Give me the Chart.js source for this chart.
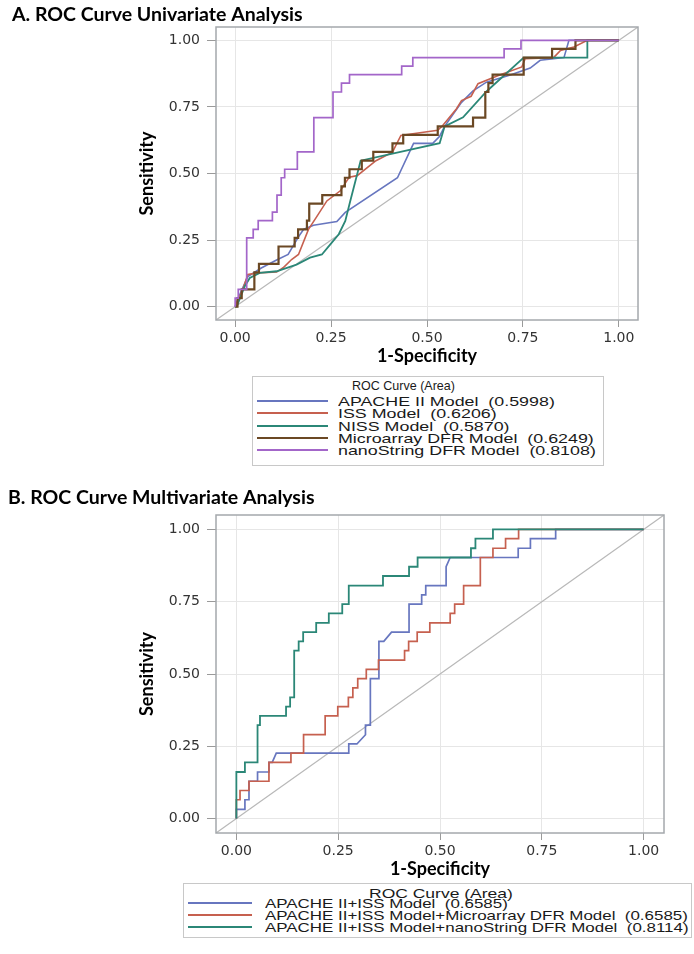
<!DOCTYPE html>
<html>
<head>
<meta charset="utf-8">
<script src="https://cdn.jsdelivr.net/npm/chart.js@4.4.1/dist/chart.umd.min.js"></script>
<style>
body { margin: 0; background: #fff; width: 694px; height: 954px; position: relative; overflow: hidden; font-family: "Liberation Sans", Arial, sans-serif; }
canvas { position: absolute; left: 0; }
#chartA { top: 0; }
#chartB { top: 480px; }
.legend { position: absolute; border: 1px solid #c8c8c8; background: #fff; box-sizing: border-box; }
.legend .txt { position: absolute; white-space: pre; font-size: 13px; line-height: 13px; color: #1a1a1a; transform-origin: 0 50%; }
.legend .swatch { position: absolute; height: 2px; }
</style>
</head>
<body>
<canvas id="chartA" width="694" height="372"></canvas>
<canvas id="chartB" width="694" height="400"></canvas>
<div id="legendA" class="legend"></div>
<div id="legendB" class="legend"></div>
<script>
// ---- panel A: univariate ----
var namesA = ['APACHE II Model', 'ISS Model', 'NISS Model', 'Microarray DFR Model', 'nanoString DFR Model'];
var areasA = ['0.5998', '0.6206', '0.5870', '0.6249', '0.8108'];

var apacheFpr = [0, 0.008, 0.018, 0.033, 0.068, 0.108, 0.138, 0.165, 0.178, 0.204, 0.265, 0.287, 0.423, 0.465, 0.515, 0.533, 0.546, 0.590, 0.620, 0.655, 0.717, 0.769, 0.795, 0.857, 0.870, 1];
var apacheTpr = [0, 0.032, 0.065, 0.113, 0.145, 0.175, 0.196, 0.262, 0.290, 0.306, 0.320, 0.354, 0.484, 0.613, 0.613, 0.640, 0.677, 0.767, 0.810, 0.843, 0.870, 0.896, 0.925, 0.935, 1, 1];

var issFpr = [0, 0.010, 0.020, 0.033, 0.060, 0.108, 0.125, 0.147, 0.165, 0.191, 0.208, 0.239, 0.274, 0.297, 0.318, 0.367, 0.410, 0.432, 0.463, 0.528, 0.541, 0.577, 0.590, 0.615, 0.633, 0.686, 0.747, 0.756, 0.830, 0.848, 0.883, 0.918, 1];
var issTpr = [0, 0.032, 0.065, 0.121, 0.127, 0.130, 0.146, 0.177, 0.196, 0.290, 0.328, 0.397, 0.435, 0.486, 0.492, 0.548, 0.580, 0.643, 0.649, 0.662, 0.680, 0.743, 0.774, 0.790, 0.837, 0.868, 0.900, 0.931, 0.935, 0.962, 0.975, 1, 1];

var nissFpr = [0, 0.004, 0.025, 0.038, 0.064, 0.108, 0.160, 0.195, 0.226, 0.248, 0.270, 0.287, 0.300, 0.327, 0.533, 0.546, 0.594, 0.655, 0.752, 0.918, 0.918, 1];
var nissTpr = [0, 0, 0.077, 0.108, 0.127, 0.133, 0.158, 0.184, 0.196, 0.234, 0.272, 0.322, 0.397, 0.548, 0.614, 0.677, 0.711, 0.808, 0.935, 0.935, 1, 1];

var microFpr = [0, 0.006, 0.006, 0.017, 0.017, 0.050, 0.050, 0.062, 0.062, 0.113, 0.113, 0.155, 0.155, 0.164, 0.164, 0.187, 0.187, 0.193, 0.193, 0.227, 0.227, 0.277, 0.277, 0.286, 0.286, 0.298, 0.298, 0.330, 0.330, 0.360, 0.360, 0.410, 0.410, 0.438, 0.438, 0.528, 0.528, 0.620, 0.620, 0.652, 0.652, 0.660, 0.660, 0.671, 0.671, 0.752, 0.752, 0.826, 0.826, 0.887, 0.887, 1];
var microTpr = [0, 0, 0.032, 0.032, 0.065, 0.065, 0.129, 0.129, 0.161, 0.161, 0.226, 0.226, 0.258, 0.258, 0.290, 0.290, 0.323, 0.323, 0.387, 0.387, 0.419, 0.419, 0.452, 0.452, 0.484, 0.484, 0.516, 0.516, 0.548, 0.548, 0.581, 0.581, 0.613, 0.613, 0.645, 0.645, 0.677, 0.677, 0.710, 0.710, 0.806, 0.806, 0.839, 0.839, 0.871, 0.871, 0.935, 0.935, 0.968, 0.968, 1, 1];

var nanoFpr = [0, 0, 0.008, 0.008, 0.030, 0.030, 0.047, 0.047, 0.060, 0.060, 0.097, 0.097, 0.109, 0.109, 0.120, 0.120, 0.129, 0.129, 0.162, 0.162, 0.205, 0.205, 0.255, 0.255, 0.277, 0.277, 0.298, 0.298, 0.434, 0.434, 0.463, 0.463, 0.701, 0.701, 0.745, 0.745, 1];
var nanoTpr = [0, 0.032, 0.032, 0.065, 0.065, 0.258, 0.258, 0.290, 0.290, 0.323, 0.323, 0.355, 0.355, 0.419, 0.419, 0.484, 0.484, 0.516, 0.516, 0.581, 0.581, 0.710, 0.710, 0.806, 0.806, 0.839, 0.839, 0.871, 0.871, 0.903, 0.903, 0.935, 0.935, 0.968, 0.968, 1, 1];

// ---- panel B: multivariate ----
var namesB = ['APACHE II+ISS Model', 'APACHE II+ISS Model+Microarray DFR Model', 'APACHE II+ISS Model+nanoString DFR Model'];
var areasB = ['0.6585', '0.6585', '0.8114'];

var baseFpr = [0, 0, 0.021, 0.021, 0.031, 0.031, 0.052, 0.052, 0.080, 0.080, 0.088, 0.098, 0.276, 0.276, 0.296, 0.317, 0.317, 0.329, 0.329, 0.350, 0.350, 0.362, 0.381, 0.424, 0.424, 0.455, 0.455, 0.465, 0.465, 0.515, 0.515, 0.525, 0.692, 0.692, 0.722, 0.722, 0.784, 0.784, 1];
var baseTpr = [0, 0.032, 0.032, 0.065, 0.065, 0.129, 0.129, 0.161, 0.161, 0.194, 0.194, 0.226, 0.226, 0.258, 0.258, 0.290, 0.323, 0.323, 0.484, 0.484, 0.613, 0.613, 0.645, 0.645, 0.742, 0.742, 0.774, 0.774, 0.806, 0.806, 0.871, 0.903, 0.903, 0.935, 0.935, 0.968, 0.968, 1, 1];

var baseMicroFpr = [0, 0, 0.009, 0.009, 0.031, 0.031, 0.080, 0.080, 0.134, 0.134, 0.165, 0.165, 0.218, 0.218, 0.249, 0.249, 0.275, 0.275, 0.286, 0.286, 0.298, 0.298, 0.319, 0.319, 0.349, 0.349, 0.413, 0.413, 0.423, 0.423, 0.444, 0.444, 0.475, 0.475, 0.525, 0.525, 0.536, 0.536, 0.558, 0.558, 0.599, 0.599, 0.630, 0.630, 0.661, 0.661, 0.693, 0.693, 1];
var baseMicroTpr = [0, 0.065, 0.065, 0.097, 0.097, 0.129, 0.129, 0.194, 0.194, 0.226, 0.226, 0.290, 0.290, 0.355, 0.355, 0.387, 0.387, 0.419, 0.419, 0.452, 0.452, 0.484, 0.484, 0.516, 0.516, 0.548, 0.548, 0.581, 0.581, 0.613, 0.613, 0.645, 0.645, 0.677, 0.677, 0.710, 0.710, 0.742, 0.742, 0.806, 0.806, 0.903, 0.903, 0.935, 0.935, 0.968, 0.968, 1, 1];

var baseNanoFpr = [0, 0, 0.021, 0.021, 0.052, 0.052, 0.058, 0.058, 0.122, 0.122, 0.132, 0.132, 0.142, 0.142, 0.153, 0.153, 0.164, 0.164, 0.196, 0.196, 0.227, 0.227, 0.260, 0.260, 0.276, 0.276, 0.360, 0.360, 0.424, 0.424, 0.445, 0.445, 0.576, 0.576, 0.587, 0.587, 0.630, 0.630, 1];
var baseNanoTpr = [0, 0.161, 0.161, 0.194, 0.194, 0.323, 0.323, 0.355, 0.355, 0.387, 0.387, 0.419, 0.419, 0.581, 0.581, 0.613, 0.613, 0.645, 0.645, 0.677, 0.677, 0.710, 0.710, 0.742, 0.742, 0.806, 0.806, 0.839, 0.839, 0.871, 0.871, 0.903, 0.903, 0.935, 0.935, 0.968, 0.968, 1, 1];

// axis range and the chance line (corner to corner)
var axisRange = [-0.05, 1.05];
var tickStep = 0.25;

var blue = '#6776bf', red = '#c6604f', teal = '#2b8777', brown = '#6b4824', purple = '#a366c9';

function points(fpr, tpr) {
    return fpr.map(function(x, i) { return { x: x, y: tpr[i] }; });
}

var framePlugin = {
    id: 'frame',
    afterDraw: function(chart) {
        var a = chart.chartArea, ctx = chart.ctx;
        ctx.save();
        ctx.strokeStyle = '#a4a8ac';
        ctx.lineWidth = 1.5;
        ctx.strokeRect(a.left, a.top, a.right - a.left, a.bottom - a.top);
        ctx.restore();
    }
};

function rocChart(id, c) {
    var datasets = [{
        data: points(axisRange, axisRange),
        showLine: true, borderColor: '#b8b8b8', borderWidth: 1.2, order: 99
    }];
    c.names.forEach(function(name, i) {
        datasets.push({
            label: name,
            data: points(c.fpr[i], c.tpr[i]),
            showLine: true,
            borderColor: c.colors[i],
            borderWidth: c.widths[i],
            order: c.names.length - i
        });
    });
    var tickFont = { family: 'DejaVu Sans', size: 14 };
    var titleFont = { family: 'Lato', size: 18, weight: 'bold' };
    var fmt = function(v) { return v.toFixed(2); };
    new Chart(document.getElementById(id), {
        type: 'scatter',
        data: { datasets: datasets },
        plugins: [framePlugin],
        options: {
            responsive: false,
            animation: false,
            events: [],
            layout: { padding: { left: c.padLeft, right: c.padRight, top: 0, bottom: 0 } },
            elements: { point: { radius: 0, hoverRadius: 0 }, line: { tension: 0, fill: false } },
            scales: {
                x: {
                    type: 'linear', min: axisRange[0], max: axisRange[1],
                    afterFit: function(s) { s.height = c.xAxisH; },
                    ticks: { stepSize: tickStep, includeBounds: false, callback: fmt, font: tickFont, color: '#333', padding: 3, maxRotation: 0 },
                    grid: { color: '#e6e6e6', tickColor: '#9a9a9a', tickLength: 7 },
                    border: { display: false },
                    title: { display: true, text: '1-Specificity', font: titleFont, color: '#000', padding: { top: 0, bottom: c.xTitlePad } }
                },
                y: {
                    type: 'linear', min: axisRange[0], max: axisRange[1],
                    afterFit: function(s) { s.width = c.yAxisW; },
                    ticks: { stepSize: tickStep, includeBounds: false, callback: fmt, font: tickFont, color: '#333', padding: 7 },
                    grid: { color: '#e6e6e6', tickColor: '#9a9a9a', tickLength: 9 },
                    border: { display: false },
                    title: { display: true, text: 'Sensitivity', font: titleFont, color: '#000', padding: { top: c.yTitlePad, bottom: 0 } }
                }
            },
            plugins: {
                legend: { display: false },
                tooltip: { enabled: false },
                title: {
                    display: true, text: c.title, align: 'start',
                    font: { family: 'Lato', size: 19.5, weight: 'bold' }, color: '#000',
                    padding: { top: c.titleTop, bottom: c.titleBottom }
                }
            }
        }
    });
}

function buildLegend(id, names, areas, colors, L) {
    var box = document.getElementById(id);
    box.style.left = L.left + 'px';
    box.style.top = L.top + 'px';
    box.style.width = L.width + 'px';
    box.style.height = L.height + 'px';
    function addText(text, x, cy) {
        var t = document.createElement('div');
        t.className = 'txt';
        t.textContent = text;
        t.style.left = (x - L.left - 1) + 'px';
        t.style.top = (cy - L.top - 1 - 6.5) + 'px';
        box.appendChild(t);
        return t;
    }
    var title = addText('ROC Curve (Area)', L.titleX, L.titleY);
    title.style.transform = 'scaleX(' + (L.titleW / title.offsetWidth) + ')';
    var rows = [], widest = 0;
    names.forEach(function(name, i) {
        var cy = Math.round(L.rowY + i * L.rowStep);
        var s = document.createElement('div');
        s.className = 'swatch';
        s.style.left = (L.lineX0 - L.left - 1) + 'px';
        s.style.width = (L.lineX1 - L.lineX0) + 'px';
        s.style.top = (cy - L.top - 2) + 'px';
        s.style.background = colors[i];
        box.appendChild(s);
        var t = addText(name + '  (' + areas[i] + ')', L.textX, cy);
        widest = Math.max(widest, t.offsetWidth);
        rows.push(t);
    });
    rows.forEach(function(t) { t.style.transform = 'scaleX(' + (L.rowW / widest) + ')'; });
}

var colorsA = [blue, red, teal, brown, purple];
var colorsB = [blue, red, teal];

rocChart('chartA', {
    title: 'A. ROC Curve Univariate Analysis',
    names: namesA,
    fpr: [apacheFpr, issFpr, nissFpr, microFpr, nanoFpr],
    tpr: [apacheTpr, issTpr, nissTpr, microTpr, nanoTpr],
    colors: colorsA,
    widths: [1.6, 1.6, 1.8, 2.2, 1.7],
    padLeft: 12, padRight: 56, yAxisW: 204, xAxisH: 52,
    yTitlePad: 124, xTitlePad: 5.4, titleTop: 3, titleBottom: 0.6
});

rocChart('chartB', {
    title: 'B. ROC Curve Multivariate Analysis',
    names: namesB,
    fpr: [baseFpr, baseMicroFpr, baseNanoFpr],
    tpr: [baseTpr, baseMicroTpr, baseNanoTpr],
    colors: colorsB,
    widths: [1.7, 1.7, 1.8],
    padLeft: 8, padRight: 30, yAxisW: 208, xAxisH: 47,
    yTitlePad: 128, xTitlePad: 0, titleTop: 6, titleBottom: 5.6
});

buildLegend('legendA', namesA, areasA, colorsA, {
    left: 252, top: 376, width: 352, height: 90,
    titleX: 352, titleY: 385, titleW: 103,
    lineX0: 257, lineX1: 328, textX: 338, rowY: 401, rowStep: 12.3, rowW: 258
});
buildLegend('legendB', namesB, areasB, colorsB, {
    left: 183, top: 883, width: 509, height: 55,
    titleX: 369, titleY: 893, titleW: 144,
    lineX0: 188, lineX1: 252, textX: 265, rowY: 903, rowStep: 12, rowW: 423
});
</script>
</body>
</html>
